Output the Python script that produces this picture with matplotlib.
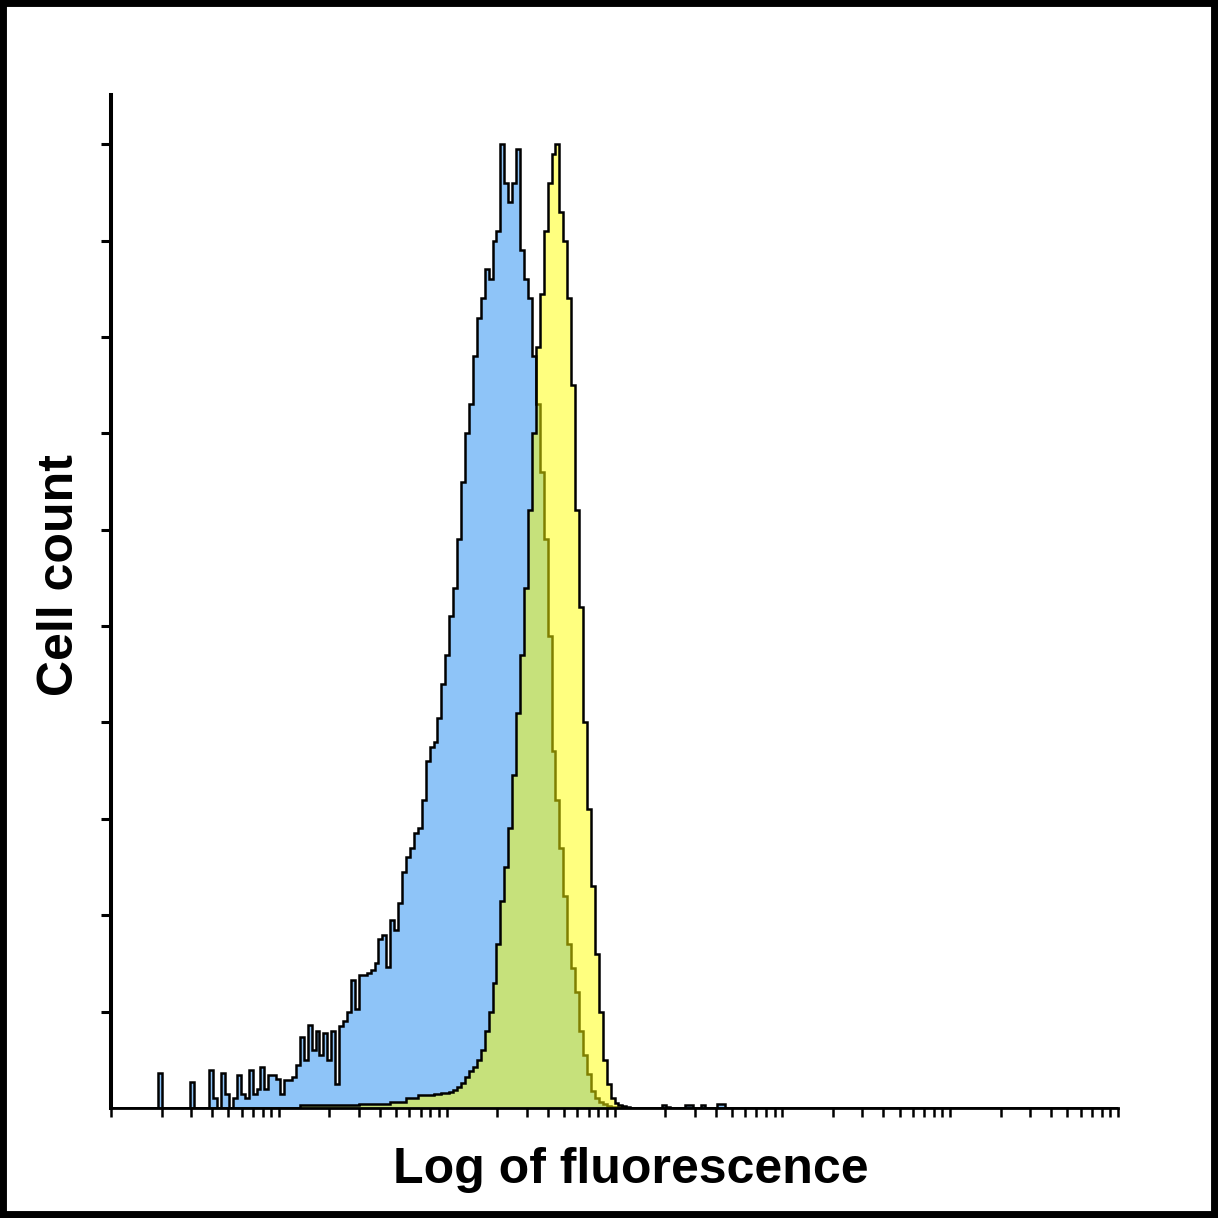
import numpy as np
import matplotlib
matplotlib.use('Agg')
import matplotlib.pyplot as plt
from matplotlib import ticker
from matplotlib.patches import Rectangle

# 256 log channels over 6 decades
n_channels = 256
decades = 6

# blue histogram (starts at channel 12)
blue_start = 12
blue_counts = [3.6, 0, 0, 0, 0, 0, 0, 0, 2.7, 0, 0, 0, 0, 3.9, 1.0, 0, 3.6, 1.5, 0, 1.0,
               3.4, 1.5, 1.0, 3.9, 1.5, 2.0, 4.3, 2.0, 3.4, 3.4, 3.0, 1.5, 2.9, 2.9, 3.2, 4.5,
               7.4, 5.0, 8.6, 6.0, 8.0, 5.5, 7.8, 5.0, 8.0, 2.5, 8.5, 9.0, 10.0, 13.3, 10.3,
               13.8, 13.8, 14.0, 14.3, 15.0, 17.5, 18.0, 14.6, 19.5, 18.5, 21.3, 24.5, 26.0,
               27.0, 28.5, 29.0, 32.0, 36.0, 37.5, 38.0, 40.5, 44.0, 47.0, 51.0, 54.0, 59.0,
               65.0, 70.0, 73.0, 78.0, 82.0, 84.0, 87.0, 86.0, 90.0, 91.0, 100.0, 96.0, 94.0,
               96.0, 99.5, 89.0, 86.0, 84.0, 78.0, 73.0, 66.0, 59.0, 49.0, 37.0, 32.0, 27.0,
               22.0, 17.0, 14.5, 12.0, 8.0, 5.5, 3.5, 1.8, 1.0, 0.6, 0.4, 0.2, 0.1, 0.1, 0.1,
               0.1, 0.1, 0, 0, 0, 0, 0, 0, 0, 0, 0.3, 0.1, 0, 0, 0, 0, 0.3, 0.3, 0, 0, 0.3,
               0, 0, 0, 0.4, 0.4]

# yellow histogram (starts at channel 48)
yellow_start = 48
yellow_counts = [0.3] * 15 + [0.4] * 8 + [0.6] * 4 + [1.0] * 3 + [1.3] * 3 + [
    1.4, 1.5, 1.5, 1.6, 1.6, 1.7, 1.9, 2.2, 2.6, 3.2, 3.8, 4.3, 5.0, 6.0, 8.0, 10.0,
    13.0, 17.0, 21.5, 25.0, 29.0, 34.5, 41.0, 47.0, 54.0, 62.0, 70.0, 79.0, 84.5, 91.0,
    96.0, 99.0, 100.0, 93.0, 90.0, 84.0, 75.0, 62.0, 52.0, 40.0, 31.0, 23.0, 16.0, 10.0,
    5.0, 2.5, 1.0, 0.5, 0.3, 0.2]

y_ticks = np.arange(10, 101, 10)

edges = 10 ** (np.arange(n_channels + 1) * decades / n_channels)
blue = np.zeros(n_channels)
blue[blue_start:blue_start + len(blue_counts)] = blue_counts
yellow = np.zeros(n_channels)
yellow[yellow_start:yellow_start + len(yellow_counts)] = yellow_counts

plt.rcParams['font.family'] = ['Liberation Sans', 'DejaVu Sans']

fig = plt.figure(figsize=(12.18, 12.18), dpi=100)
ax = fig.add_axes([111 / 1218, 110 / 1218, 1007 / 1218, 1013 / 1218])

ax.stairs(blue, edges, fill=True, color='#8ec4f8', zorder=1)
ax.stairs(blue, edges, color='black', lw=1.8, zorder=2)
ax.stairs(yellow, edges, fill=True, color='#ffff00', alpha=0.5, lw=0, zorder=3)
ax.stairs(yellow, edges, color='black', lw=1.8, zorder=4)

ax.set_xscale('log')
ax.set_xlim(1, 10 ** decades)
ax.set_ylim(0, 105.1)

ax.xaxis.set_major_locator(ticker.LogLocator(base=10, subs=np.arange(1, 10), numticks=100))
ax.xaxis.set_major_formatter(ticker.NullFormatter())
ax.xaxis.set_minor_locator(ticker.NullLocator())
ax.set_yticks(y_ticks)
ax.set_yticklabels([])

ax.tick_params(axis='y', direction='out', length=7.2, width=2.2, color='black')
ax.tick_params(axis='x', direction='out', length=6.2, width=1.8, color='black')

ax.spines['top'].set_visible(False)
ax.spines['right'].set_visible(False)
ax.spines['left'].set_linewidth(2.9)
ax.spines['bottom'].set_linewidth(2.0)
for s in ('left', 'bottom'):
    ax.spines[s].set_zorder(6)

fig.text(73 / 1218, 1 - 575 / 1218, 'Cell count', rotation=90, rotation_mode='anchor',
         ha='center', va='baseline', fontsize=36, fontweight='bold')
fig.text(631 / 1218, 1 - 1183 / 1218, 'Log of fluorescence', ha='center', va='baseline',
         fontsize=36, fontweight='bold')

# black frame round the picture
fig.patches.append(Rectangle((0, 0), 1, 1, transform=fig.transFigure, fill=False,
                             edgecolor='black', lw=10, zorder=10))

fig.savefig('out.png', dpi=100, facecolor='white')
